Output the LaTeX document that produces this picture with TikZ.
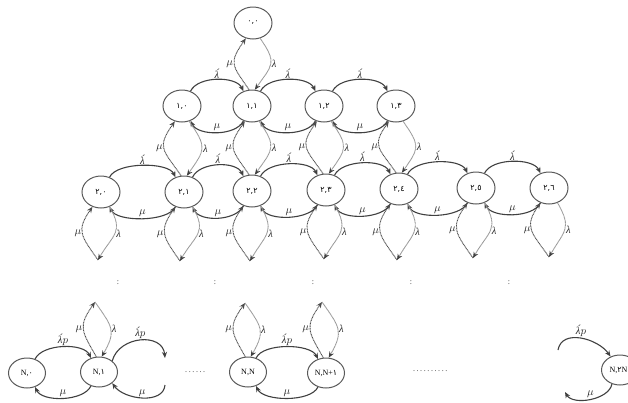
\documentclass[tikz,border=0pt]{standalone}
\usepackage{fontspec}
\setmainfont{Liberation Serif}
\newfontfamily\dgfont{DejaVu Sans}
\usetikzlibrary{shapes.geometric,arrows.meta}

% Arabic-Indic digits come from DejaVu Sans
\newcommand\dg[1]{{\dgfont #1}}
\newcommand\lamacute{λ́}
% a row of spaced dots
\newcommand\dotrow[1]{\foreach \k in {1,...,#1}{.\kern1.6pt}}

\tikzset{
  state/.style={ellipse, draw=black!65, line width=1pt, minimum width=38pt,
    minimum height=32pt, inner sep=0pt, font=\fontsize{8}{9}\selectfont},
  bstate/.style={state, minimum width=37pt, minimum height=30pt},
  tipshape/.style={-{Stealth[length=6pt,width=5pt]}},
  flow/.style={draw=black!75, line width=1.1pt, tipshape},
  upflow/.style={draw=black!70, line width=0.9pt, dash pattern=on 1pt off 0.6pt, tipshape},
  dnflow/.style={draw=black!40, line width=0.9pt, dash pattern=on 1pt off 0.4pt,
    -{Stealth[length=6pt,width=5pt,black!75]}},
  rate/.style={font=\fontsize{10.5}{11}\selectfont\itshape, inner sep=1pt, text=black!85},
  more/.style={font=\fontsize{8}{8}\selectfont, inner sep=0pt, text=black!80}
}

% forward arc (left to right, over the top) and backward arc (right to left, underneath)
\newcommand\fwd[3]{\draw[flow] (#1.60) to[out=65,in=115,distance=17pt] node[rate,above]{#3} (#2.120);}
\newcommand\bwd[2]{\draw[flow] (#2.240) to[out=245,in=295,distance=17pt] node[rate,above]{$\mu$} (#1.300);}
% pair of dotted arcs between an upper state #1 and a lower state #2
\newcommand\vlens[2]{%
  \draw[upflow] (#2.100) to[out=125,in=235,looseness=1.5] node[rate,left]{$\mu$} (#1.245);
  \draw[dnflow] (#1.295) to[out=305,in=55,looseness=1.5] node[rate,right]{λ} (#2.80);}
% dotted pair from a state #1 down to a free end #2
\newcommand\dlens[2]{%
  \draw[upflow] (#2) to[out=125,in=235,looseness=1.4] node[rate,left]{$\mu$} (#1.240);
  \draw[dnflow] (#1.300) to[out=300,in=60,looseness=1.4] node[rate,right]{λ} (#2);}
% dotted pair from a state #1 up to a free end #2
\newcommand\ulens[2]{%
  \draw[upflow] (#1.100) to[out=120,in=235,looseness=1.4] node[rate,left]{$\mu$} (#2);
  \draw[dnflow] (#2) to[out=305,in=60,looseness=1.4] node[rate,right]{λ} (#1.80);}

\begin{document}
\begin{tikzpicture}[x=1pt,y=1pt]
\useasboundingbox (0,0) rectangle (628,-402);

% states
\node[state] (s00) at (253,-23) {\dg{٠,٠}};

\node[state] (s10) at (182,-106) {\dg{١,٠}};
\node[state] (s11) at (252,-106) {\dg{١,١}};
\node[state] (s12) at (324,-106) {\dg{١,٢}};
\node[state] (s13) at (396,-106) {\dg{١,٣}};

\node[state] (s20) at (101,-192) {\dg{٢,٠}};
\node[state] (s21) at (184,-192) {\dg{٢,١}};
\node[state] (s22) at (252,-191) {\dg{٢,٢}};
\node[state] (s23) at (326,-190) {\dg{٢,٣}};
\node[state] (s24) at (399,-189) {\dg{٢,٤}};
\node[state] (s25) at (476,-188) {\dg{٢,٥}};
\node[state] (s26) at (549,-188) {\dg{٢,٦}};

\node[bstate] (b0)  at (27,-373)  {N,\dg{٠}};
\node[bstate] (b1)  at (99,-372)  {N,\dg{١}};
\node[bstate] (bN)  at (248,-372) {N,N};
\node[bstate] (bN1) at (326,-373) {N,N+\dg{١}};
\node[bstate] (b2N) at (620,-370) {\hspace*{-3pt}N,\dg{٢}N};

% row 1
\fwd{s10}{s11}{\lamacute}
\fwd{s11}{s12}{\lamacute}
\fwd{s12}{s13}{\lamacute}
\bwd{s10}{s11}
\bwd{s11}{s12}
\bwd{s12}{s13}

% row 2
\fwd{s20}{s21}{\lamacute}
\fwd{s21}{s22}{\lamacute}
\fwd{s22}{s23}{\lamacute}
\fwd{s23}{s24}{\lamacute}
\fwd{s24}{s25}{\lamacute}
\fwd{s25}{s26}{\lamacute}
\bwd{s20}{s21}
\bwd{s21}{s22}
\bwd{s22}{s23}
\bwd{s23}{s24}
\bwd{s24}{s25}
\bwd{s25}{s26}

% between levels
\vlens{s00}{s11}
\vlens{s10}{s21}
\vlens{s11}{s22}
\vlens{s12}{s23}
\vlens{s13}{s24}

% open ends below row 2
\coordinate (t20) at (98,-260);
\coordinate (t21) at (180,-261);
\coordinate (t22) at (250,-261);
\coordinate (t23) at (324,-259);
\coordinate (t24) at (397,-260);
\coordinate (t25) at (473,-258);
\coordinate (t26) at (549,-257);
\dlens{s20}{t20}
\dlens{s21}{t21}
\dlens{s22}{t22}
\dlens{s23}{t23}
\dlens{s24}{t24}
\dlens{s25}{t25}
\dlens{s26}{t26}

% continuation marks
\node[more] (m1) at (118,-283) {:};
\node[more] (m2) at (215,-283) {:};
\node[more] (m3) at (313,-283) {:};
\node[more] (m4) at (411,-283) {:};
\node[more] (m5) at (509,-283) {:};

% bottom level
\fwd{b0}{b1}{\lamacute$p$}
\bwd{b0}{b1}
\fwd{bN}{bN1}{\lamacute$p$}
\bwd{bN}{bN1}

\coordinate (u1) at (95,-302);
\coordinate (uN) at (245,-303);
\coordinate (uN1) at (322,-302);
\ulens{b1}{u1}
\ulens{bN}{uN}
\ulens{bN1}{uN1}

\coordinate (f1) at (165,-358);
\coordinate (f2) at (165,-385);
\draw[flow] (b1.40) to[out=75,in=95,distance=26pt] node[rate,above]{\lamacute$p$} (f1);
\draw[flow] (f2) to[out=265,in=305,distance=20pt] node[rate,above]{$\mu$} (b1.320);

\coordinate (f3) at (558,-350);
\coordinate (f4) at (565,-392);
\draw[flow] (f3) to[out=80,in=125,distance=22pt] node[rate,above]{\lamacute$p$} (b2N.125);
\draw[flow] (b2N.240) to[out=260,in=300,distance=16pt] node[rate,above]{$\mu$} (f4);

\node[more] (d1) at (196,-372) {\dotrow{6}};
\node[more] (d2) at (431,-371) {\dotrow{10}};
\end{tikzpicture}
\end{document}
